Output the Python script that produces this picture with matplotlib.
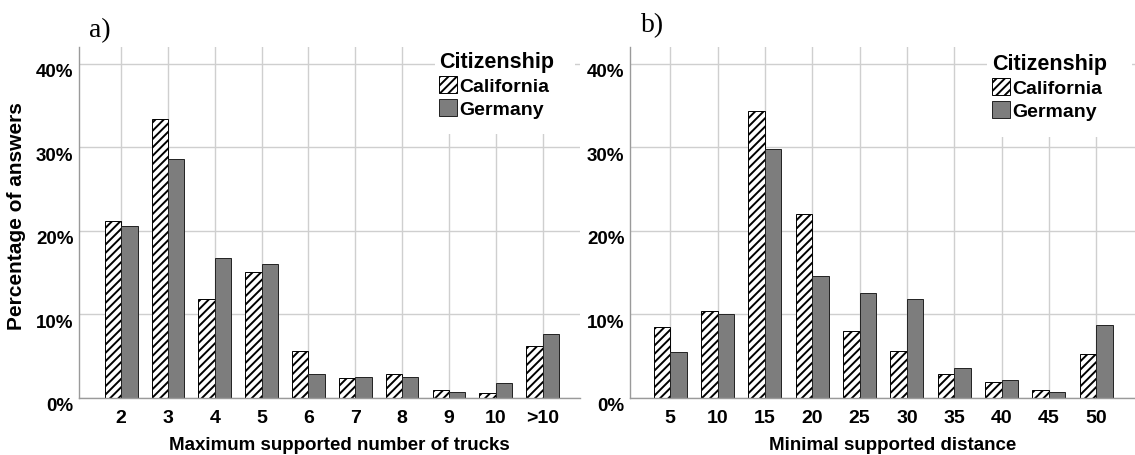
import numpy as np
import matplotlib
matplotlib.use("Agg")
import matplotlib.pyplot as plt
from matplotlib.patches import Rectangle
from matplotlib.ticker import PercentFormatter
import matplotlib.transforms as mtransforms

# panel a: maximum supported number of trucks
trucks_cats = ["2", "3", "4", "5", "6", "7", "8", "9", "10", ">10"]
trucks_california = [21.2, 33.4, 11.9, 15.1, 5.6, 2.4, 2.9, 1.0, 0.6, 6.2]
trucks_germany = [20.6, 28.6, 16.8, 16.0, 2.9, 2.5, 2.5, 0.7, 1.8, 7.7]

# panel b: minimal supported distance
dist_cats = ["5", "10", "15", "20", "25", "30", "35", "40", "45", "50"]
dist_california = [8.5, 10.4, 34.3, 22.0, 8.0, 5.6, 2.9, 1.9, 1.0, 5.3]
dist_germany = [5.5, 10.1, 29.8, 14.6, 12.6, 11.9, 3.6, 2.2, 0.7, 8.7]

plt.rcParams['font.family'] = ['Liberation Sans', 'DejaVu Sans']
plt.rcParams['font.weight'] = 'bold'
plt.rcParams['hatch.linewidth'] = 1.4

W, H = 1135, 456
fig = plt.figure(figsize=(W / 100, H / 100), dpi=100)

grid_col = '#cfcfcf'
spine_col = '#9a9a9a'
gray = '#7d7d7d'


def panel(rect, cats, cal, ger, xlabel, xlim, mask, leg_pos, ylabel=None):
    ax = fig.add_axes(rect)
    x = np.arange(len(cats))
    w = 0.35
    ax.bar(x - w / 2, cal, w, color='white', edgecolor='black', hatch='////',
           linewidth=0.7, label='California', zorder=2)
    ax.bar(x + w / 2, ger, w, color=gray, edgecolor='#222222',
           linewidth=0.7, label='Germany', zorder=2)
    ax.set_xlim(*xlim)
    ax.set_ylim(0, 42)
    ax.set_xticks(x)
    ax.set_xticklabels(cats, fontsize=14, fontweight='bold')
    ax.set_yticks([0, 10, 20, 30, 40])
    ax.yaxis.set_major_formatter(PercentFormatter(decimals=0))
    ax.tick_params(axis='both', length=0)
    ax.tick_params(axis='x', pad=8)
    ax.tick_params(axis='y', pad=4, labelsize=13.5)
    off = mtransforms.ScaledTranslation(0, -6 / 100, fig.dpi_scale_trans)
    for lbl in ax.get_yticklabels():
        lbl.set_transform(lbl.get_transform() + off)
        lbl.set_fontweight('bold')
    ax.set_axisbelow(True)
    ax.grid(True, color=grid_col, linewidth=1.0)
    for s in ['top', 'right']:
        ax.spines[s].set_visible(False)
    for s in ['left', 'bottom']:
        ax.spines[s].set_color(spine_col)
        ax.spines[s].set_linewidth(1.0)
    # white area behind the legend
    ax.add_patch(Rectangle((mask[0], mask[1]), mask[2], 1 - mask[1],
                           transform=ax.transAxes, facecolor='white',
                           edgecolor='none', zorder=1))
    ax.set_xlabel(xlabel, fontsize=13.5, fontweight='bold')
    ax.xaxis.set_label_coords(0.52, -0.108)
    if ylabel:
        ax.set_ylabel(ylabel, fontsize=15, fontweight='bold')
        ax.yaxis.set_label_coords(-0.106, 0.52)
    ax.legend(title='Citizenship', loc='upper left',
              bbox_to_anchor=(leg_pos[0] / W, 1 - leg_pos[1] / H),
              bbox_transform=fig.transFigure, frameon=False,
              borderpad=0, borderaxespad=0, handlelength=0.95,
              handleheight=0.95, handletextpad=0.1, labelspacing=0.2,
              prop={'size': 14, 'weight': 'bold'},
              title_fontproperties={'size': 15.5, 'weight': 'bold'},
              alignment='left')
    return ax


panel([79 / W, 1 - 399 / H, 501 / W, 351 / H], trucks_cats, trucks_california,
      trucks_germany, 'Maximum supported number of trucks', (-0.9, 9.8),
      (0.711, 0.752, 0.279), (439, 52), ylabel='Percentage of answers')
panel([630 / W, 1 - 399 / H, 505 / W, 351 / H], dist_cats, dist_california,
      dist_germany, 'Minimal supported distance', (-0.85, 9.82),
      (0.707, 0.744, 0.287), (992, 54))

fig.text(89 / W, 1 - 37 / H, 'a)', fontsize=20, fontweight='normal',
         family=['Liberation Serif', 'DejaVu Serif'], va='baseline')
fig.text(641 / W, 1 - 32 / H, 'b)', fontsize=20, fontweight='normal',
         family=['Liberation Serif', 'DejaVu Serif'], va='baseline')

fig.savefig('out.png', dpi=100)
